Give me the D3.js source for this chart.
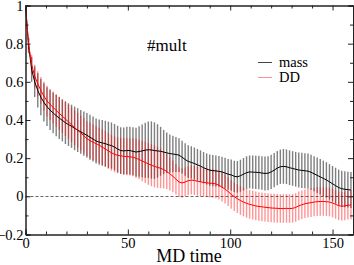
<!DOCTYPE html>
<html>
<head>
<meta charset="utf-8">
<script src="https://cdn.jsdelivr.net/npm/d3@7"></script>
<style>
  html, body { margin: 0; padding: 0; background: #fff; }
  text { font-family: "Liberation Serif", "DejaVu Serif", serif; fill: #000; }
</style>
</head>
<body>
<div id="chart"></div>
<script>
// sample spacing of the time series (MD time units)
const timeStep = 1.5;

// mass series: mean and error half-width
const massMean = [
  1.000, 0.790, 0.665, 0.600, 0.555, 0.520, 0.492, 0.470, 0.452, 0.437,
  0.423, 0.410, 0.398, 0.386, 0.376, 0.367, 0.356, 0.347, 0.338, 0.329,
  0.320, 0.310, 0.300, 0.290, 0.284, 0.280, 0.276, 0.270, 0.266, 0.258,
  0.248, 0.240, 0.238, 0.240, 0.240, 0.236, 0.232, 0.235, 0.238, 0.242,
  0.244, 0.243, 0.240, 0.238, 0.236, 0.232, 0.228, 0.224, 0.222, 0.219,
  0.216, 0.205, 0.193, 0.183, 0.178, 0.172, 0.165, 0.158, 0.150, 0.143,
  0.137, 0.135, 0.133, 0.131, 0.128, 0.122, 0.116, 0.112, 0.105, 0.102,
  0.108, 0.116, 0.124, 0.128, 0.127, 0.126, 0.125, 0.122, 0.120, 0.121,
  0.128, 0.137, 0.148, 0.155, 0.157, 0.155, 0.150, 0.146, 0.142, 0.138,
  0.136, 0.134, 0.132, 0.126, 0.118, 0.110, 0.102, 0.094, 0.086, 0.076,
  0.066, 0.056, 0.046, 0.040, 0.037, 0.035, 0.033
];
const massErr = [
  0.000, 0.040, 0.065, 0.080, 0.090, 0.095, 0.100, 0.102, 0.105, 0.107,
  0.108, 0.110, 0.110, 0.112, 0.112, 0.113, 0.114, 0.115, 0.115, 0.116,
  0.117, 0.118, 0.118, 0.118, 0.119, 0.120, 0.120, 0.121, 0.121, 0.121,
  0.122, 0.122, 0.123, 0.124, 0.125, 0.126, 0.128, 0.132, 0.138, 0.144,
  0.148, 0.150, 0.148, 0.140, 0.128, 0.116, 0.106, 0.100, 0.096, 0.092,
  0.088, 0.086, 0.085, 0.085, 0.084, 0.084, 0.083, 0.083, 0.082, 0.082,
  0.082, 0.082, 0.081, 0.081, 0.080, 0.080, 0.080, 0.081, 0.082, 0.083,
  0.084, 0.085, 0.086, 0.086, 0.087, 0.087, 0.088, 0.088, 0.089, 0.089,
  0.090, 0.090, 0.090, 0.090, 0.091, 0.091, 0.091, 0.091, 0.091, 0.092,
  0.092, 0.092, 0.092, 0.092, 0.092, 0.093, 0.093, 0.093, 0.093, 0.093,
  0.093, 0.094, 0.094, 0.094, 0.094, 0.094, 0.094
];

// DD series: mean and error half-width
const ddMean = [
  1.000, 0.800, 0.690, 0.630, 0.590, 0.555, 0.525, 0.500, 0.482, 0.466,
  0.450, 0.435, 0.420, 0.405, 0.390, 0.375, 0.360, 0.346, 0.332, 0.318,
  0.302, 0.292, 0.284, 0.276, 0.268, 0.258, 0.248, 0.238, 0.228, 0.220,
  0.215, 0.212, 0.210, 0.208, 0.207, 0.205, 0.200, 0.193, 0.185, 0.178,
  0.170, 0.163, 0.157, 0.152, 0.147, 0.140, 0.130, 0.118, 0.105, 0.090,
  0.075, 0.070, 0.075, 0.082, 0.085, 0.083, 0.079, 0.076, 0.073, 0.071,
  0.069, 0.068, 0.065, 0.058, 0.048, 0.038, 0.025, 0.010, -0.002, -0.012,
  -0.022, -0.030, -0.037, -0.042, -0.046, -0.050, -0.053, -0.055, -0.057, -0.059,
  -0.061, -0.062, -0.063, -0.064, -0.064, -0.063, -0.064, -0.063, -0.058, -0.050,
  -0.044, -0.039, -0.036, -0.033, -0.030, -0.028, -0.027, -0.027, -0.028, -0.030,
  -0.035, -0.042, -0.049, -0.052, -0.050, -0.047, -0.045
];
const ddErr = [
  0.000, 0.030, 0.050, 0.060, 0.065, 0.070, 0.075, 0.080, 0.082, 0.084,
  0.086, 0.087, 0.088, 0.089, 0.090, 0.090, 0.091, 0.091, 0.092, 0.092,
  0.092, 0.093, 0.093, 0.093, 0.093, 0.094, 0.094, 0.094, 0.094, 0.094,
  0.094, 0.095, 0.096, 0.097, 0.098, 0.100, 0.102, 0.104, 0.106, 0.108,
  0.110, 0.110, 0.110, 0.108, 0.104, 0.098, 0.092, 0.087, 0.083, 0.080,
  0.078, 0.077, 0.076, 0.076, 0.076, 0.076, 0.075, 0.075, 0.075, 0.075,
  0.075, 0.075, 0.075, 0.075, 0.075, 0.075, 0.075, 0.075, 0.075, 0.075,
  0.075, 0.075, 0.075, 0.075, 0.075, 0.075, 0.075, 0.075, 0.075, 0.075,
  0.075, 0.075, 0.075, 0.075, 0.075, 0.075, 0.075, 0.075, 0.075, 0.075,
  0.075, 0.075, 0.075, 0.075, 0.075, 0.075, 0.075, 0.075, 0.075, 0.075,
  0.075, 0.075, 0.075, 0.075, 0.075, 0.075, 0.075
];

const xMajorTicks = [0, 50, 100, 150];
const xMinorTicks = [10, 20, 30, 40, 60, 70, 80, 90, 110, 120, 130, 140, 160];
const yMajorTicks = [-0.2, 0, 0.2, 0.4, 0.6, 0.8, 1];
const yMinorTicks = [-0.1, 0.1, 0.3, 0.5, 0.7, 0.9];
const seriesNames = ["mass", "DD"];
const seriesColors = ["#000000", "#ff0000"];
const legendColors = ["#444444", "#ff9090"];

const width = 354, height = 265;
const plotLeft = 25.5, plotRight = 353, plotTop = 5.5, plotBottom = 234.5;

const x = d3.scaleLinear().domain([0, 160]).range([plotLeft, plotRight]);
const y = d3.scaleLinear().domain([-0.2, 1]).range([plotBottom, plotTop]);

const svg = d3.select("#chart").append("svg")
  .attr("width", width)
  .attr("height", height);

function toPoints(mean, err) {
  return mean.map((m, i) => ({ t: i * timeStep, m: m, e: err[i] }));
}
const series = [toPoints(massMean, massErr), toPoints(ddMean, ddErr)];

// zero reference line
svg.append("line")
  .attr("x1", x(0)).attr("x2", x(160))
  .attr("y1", Math.round(y(0)) + 0.5).attr("y2", Math.round(y(0)) + 0.5)
  .attr("stroke", "#666")
  .attr("stroke-dasharray", "3,2");

// error bars, mass first then DD on top
const barStyles = [
  { color: "#000", opacity: 0.5 },
  { color: "#ff0000", opacity: 0.42 }
];
series.forEach((pts, k) => {
  svg.append("g")
    .selectAll("line")
    .data(pts)
    .enter().append("line")
    .attr("x1", d => x(d.t)).attr("x2", d => x(d.t))
    .attr("y1", d => y(d.m - d.e)).attr("y2", d => y(d.m + d.e))
    .attr("stroke", barStyles[k].color)
    .attr("stroke-opacity", barStyles[k].opacity)
    .attr("stroke-width", 1.4);
});

// mean lines
const line = d3.line().x(d => x(d.t)).y(d => y(d.m));
series.forEach((pts, k) => {
  svg.append("path")
    .datum(pts)
    .attr("d", line)
    .attr("fill", "none")
    .attr("stroke", seriesColors[k])
    .attr("stroke-width", 1);
});

// frame and ticks (ticks point inwards)
function styleAxis(g) {
  g.selectAll("path, line").attr("stroke", "#222");
  g.selectAll("text").style("font-size", "14.5px")
    .style("font-family", '"Liberation Serif", serif');
}
svg.append("g").attr("transform", `translate(0,${plotBottom})`)
  .call(d3.axisBottom(x).tickValues(xMajorTicks).tickSize(-5).tickPadding(3).tickFormat(d3.format("d")))
  .call(styleAxis);
svg.append("g").attr("transform", `translate(0,${plotBottom})`)
  .call(d3.axisBottom(x).tickValues(xMinorTicks).tickSize(-3).tickFormat(""))
  .call(styleAxis);
svg.append("g").attr("transform", `translate(0,${plotTop})`)
  .call(d3.axisTop(x).tickValues(xMajorTicks).tickSize(-5).tickFormat(""))
  .call(styleAxis);
svg.append("g").attr("transform", `translate(0,${plotTop})`)
  .call(d3.axisTop(x).tickValues(xMinorTicks).tickSize(-3).tickFormat(""))
  .call(styleAxis);
svg.append("g").attr("transform", `translate(${plotLeft},0)`)
  .call(d3.axisLeft(y).tickValues(yMajorTicks).tickSize(-5).tickPadding(2).tickFormat(d3.format("")))
  .call(styleAxis);
svg.append("g").attr("transform", `translate(${plotLeft},0)`)
  .call(d3.axisLeft(y).tickValues(yMinorTicks).tickSize(-3).tickFormat(""))
  .call(styleAxis);
svg.append("g").attr("transform", `translate(${plotRight},0)`)
  .call(d3.axisRight(y).tickValues(yMajorTicks).tickSize(-5).tickFormat(""))
  .call(styleAxis);
svg.append("g").attr("transform", `translate(${plotRight},0)`)
  .call(d3.axisRight(y).tickValues(yMinorTicks).tickSize(-3).tickFormat(""))
  .call(styleAxis);

// axis title
svg.append("text")
  .attr("x", 189).attr("y", 262)
  .attr("text-anchor", "middle")
  .style("font-size", "18px")
  .text("MD time");

// panel label
svg.append("text")
  .attr("x", 147).attr("y", 51)
  .style("font-size", "17px")
  .text("#mult");

// legend
const legend = svg.append("g");
seriesNames.forEach((name, k) => {
  const ly = 62 + k * 15;
  legend.append("line")
    .attr("x1", 258).attr("x2", 272)
    .attr("y1", ly + 0.5).attr("y2", ly + 0.5)
    .attr("stroke", legendColors[k]);
  legend.append("text")
    .attr("x", 279).attr("y", ly + 4.5)
    .style("font-size", "14.5px")
    .text(name);
});
</script>
</body>
</html>
